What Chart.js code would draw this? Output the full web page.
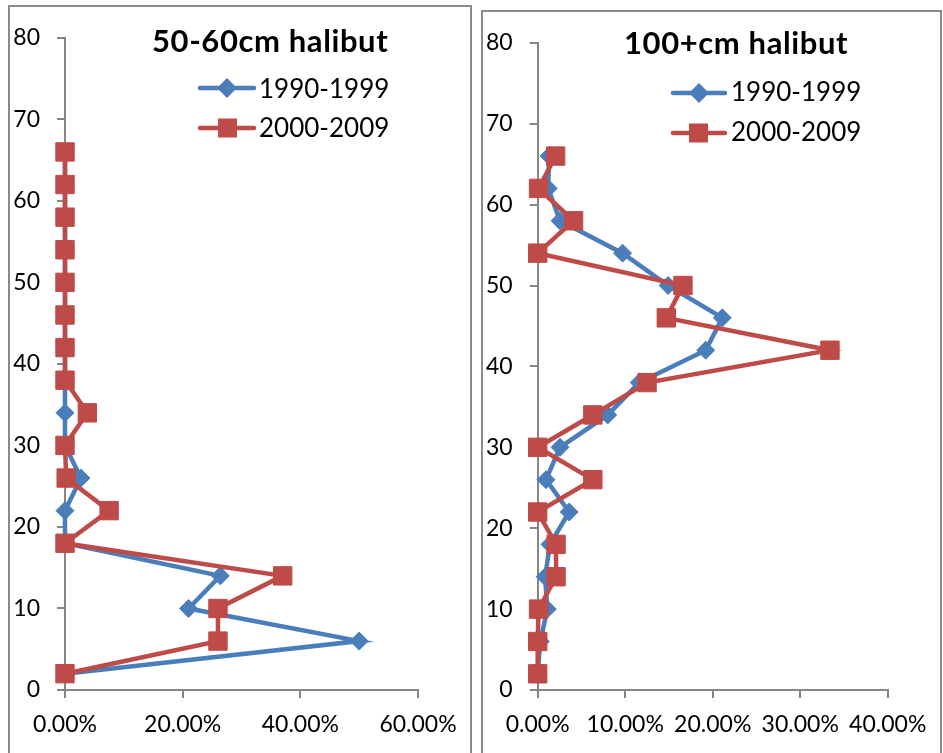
<!DOCTYPE html>
<html><head><meta charset="utf-8">
<script src="https://cdn.jsdelivr.net/npm/chart.js@4.4.0/dist/chart.umd.min.js"></script>
<style>
html,body{margin:0;padding:0;background:#fff;width:943px;height:753px;overflow:hidden;position:relative;}
.panel{position:absolute;border:2px solid #8a8a8a;border-bottom:none;box-sizing:border-box;background:#fff;}
#p1{left:8px;top:5px;width:464px;height:760px;}
#p2{left:481px;top:10px;width:461px;height:760px;}
.panel canvas{position:absolute;left:0;top:0;}
.title{position:absolute;font-family:Lato;font-weight:bold;font-size:31px;line-height:31px;white-space:nowrap;color:#000;z-index:5;}
.leg{position:absolute;font-family:Lato;font-size:26px;line-height:26px;white-space:nowrap;color:#000;z-index:5;}
svg.mk{position:absolute;z-index:5;overflow:visible;}
</style></head>
<body>
<div class="panel" id="p1"><canvas id="c1"></canvas></div>
<div class="panel" id="p2"><canvas id="c2"></canvas></div>

<div class="title" style="left:152px;top:25px;letter-spacing:0.6px">50-60cm halibut</div>
<svg class="mk" style="left:0;top:0" width="1" height="1">
  <line x1="200" y1="88" x2="254" y2="88" stroke="#4A7EBB" stroke-width="4.5" stroke-linecap="round"/>
  <polygon points="227,78 237,88 227,98 217,88" fill="#4A7EBB"/>
  <line x1="200" y1="128" x2="254" y2="128" stroke="#BE4B48" stroke-width="4.5" stroke-linecap="round"/>
  <rect x="218" y="118.5" width="19" height="19" fill="#BE4B48"/>
  <line x1="673" y1="93" x2="725" y2="93" stroke="#4A7EBB" stroke-width="4.5" stroke-linecap="round"/>
  <polygon points="699,83 709,93 699,103 689,93" fill="#4A7EBB"/>
  <line x1="673" y1="133" x2="725" y2="133" stroke="#BE4B48" stroke-width="4.5" stroke-linecap="round"/>
  <rect x="689" y="123.5" width="19" height="19" fill="#BE4B48"/>
</svg>
<div class="leg" style="left:259px;top:75px">1990-1999</div>
<div class="leg" style="left:259px;top:114px">2000-2009</div>

<div class="title" style="left:624px;top:27px;letter-spacing:0.6px">100+cm halibut</div>
<div class="leg" style="left:731px;top:78px">1990-1999</div>
<div class="leg" style="left:731px;top:118px">2000-2009</div>

<script>
// depth bins (y values)
const depths = [2, 6, 10, 14, 18, 22, 26, 30, 34, 38, 42, 46, 50, 54, 58, 62, 66];
const seriesNames = ["1990-1999", "2000-2009"];

// 50-60cm halibut, percent of catch per depth
const small1990s = [0, 50.0, 21.0, 26.4, 0, 0, 2.7, 0, 0, 0, 0, 0, 0, 0, 0, 0, 0];
const small2000s = [0, 26.0, 26.0, 37.0, 0, 7.5, 0.2, 0, 3.8, 0, 0, 0, 0, 0, 0, 0, 0];

// 100+cm halibut, percent of catch per depth
const large1990s = [0, 0.3, 1.1, 0.85, 1.4, 3.6, 0.95, 2.55, 8.0, 11.6, 19.2, 21.1, 14.9, 9.7, 2.55, 1.2, 1.3];
const large2000s = [0, 0, 0.1, 2.1, 2.1, 0, 6.3, 0, 6.3, 12.5, 33.4, 14.7, 16.6, 0, 4.1, 0.1, 2.05];

const yTicks = [0, 10, 20, 30, 40, 50, 60, 70, 80];

const BLUE = '#4A7EBB', RED = '#BE4B48', AXIS = '#868686';

function pts(vals) { return vals.map((v, i) => ({x: v, y: depths[i]})); }

function makeChart(id, w, h, blue, red, xMax, xStep, pad, yW, xH) {
  const cv = document.getElementById(id);
  cv.width = w; cv.height = h;
  cv.style.width = w + 'px'; cv.style.height = h + 'px';
  const tickFont = {family: 'Lato', size: 23};
  new Chart(cv, {
    type: 'scatter',
    data: {
      datasets: [
        {label: seriesNames[0], data: pts(blue), showLine: true, borderColor: BLUE, backgroundColor: BLUE,
         borderWidth: 4.5, pointStyle: 'rectRot', pointRadius: 9, pointBackgroundColor: BLUE,
         pointBorderColor: BLUE, pointBorderWidth: 1, order: 1, clip: false},
        {label: seriesNames[1], data: pts(red), showLine: true, borderColor: RED, backgroundColor: RED,
         borderWidth: 4.5, pointStyle: 'rect', pointRadius: 13, pointBackgroundColor: RED,
         pointBorderColor: RED, pointBorderWidth: 1, order: 0, clip: false}
      ]
    },
    options: {
      responsive: false,
      animation: false,
      devicePixelRatio: 1,
      layout: {padding: pad},
      plugins: {legend: {display: false}, title: {display: false}, tooltip: {enabled: false}},
      scales: {
        x: {
          type: 'linear', min: 0, max: xMax,
          afterFit: s => { s.height = xH; },
          ticks: {stepSize: xStep, color: '#000', font: tickFont, padding: 13, maxRotation: 0,
                  callback: v => v.toFixed(2) + '%'},
          grid: {drawOnChartArea: false, drawTicks: true, tickLength: 8, color: AXIS, lineWidth: 2},
          border: {display: true, color: AXIS, width: 2}
        },
        y: {
          type: 'linear', min: yTicks[0], max: yTicks[yTicks.length - 1],
          afterFit: s => { s.width = yW; },
          afterBuildTicks: s => { s.ticks = yTicks.map(v => ({value: v})); },
          ticks: {color: '#000', font: tickFont, padding: 17},
          grid: {drawOnChartArea: false, drawTicks: true, tickLength: 8, color: AXIS, lineWidth: 2},
          border: {display: true, color: AXIS, width: 2}
        }
      }
    }
  });
}

makeChart('c1', 460, 746, small1990s, small2000s, 60, 20, {left: 0, right: 52, top: 26, bottom: 0}, 55, 63);
makeChart('c2', 457, 741, large1990s, large2000s, 40, 10, {left: 0, right: 52.3, top: 24.7, bottom: 0}, 54.7, 63);
</script>
</body></html>
